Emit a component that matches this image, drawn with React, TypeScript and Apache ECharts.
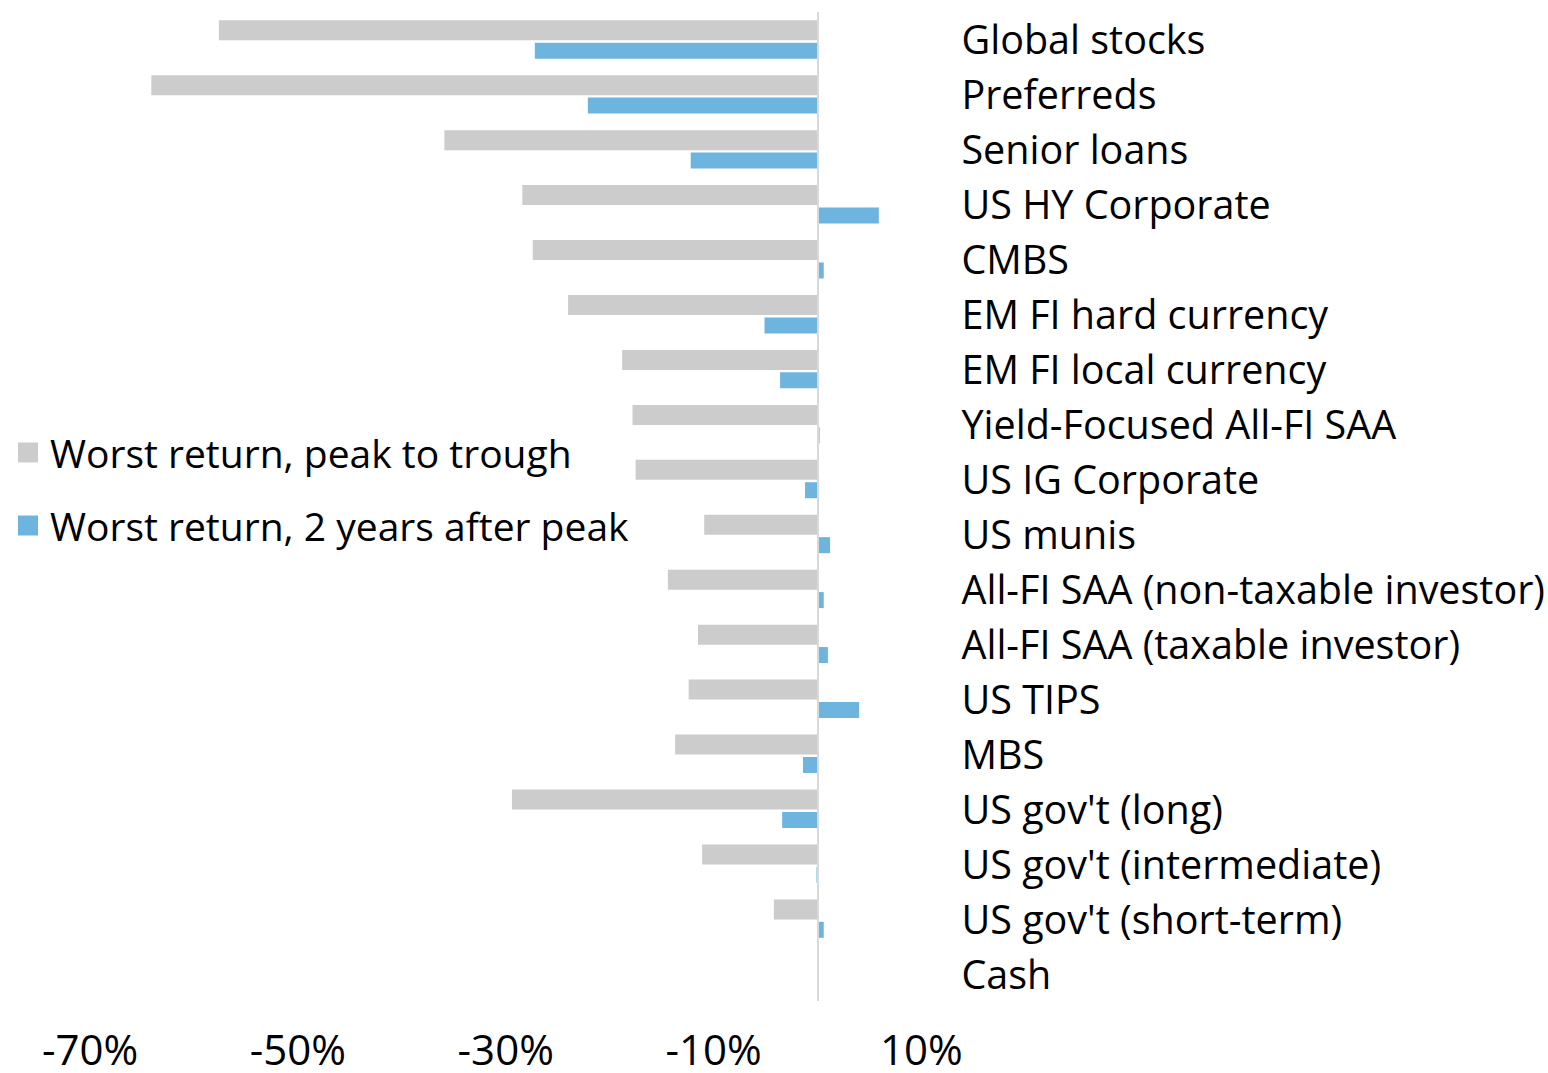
import React, { useEffect, useRef } from "react";
import * as echarts from "echarts";

const categories = [
  "Global stocks",
  "Preferreds",
  "Senior loans",
  "US HY Corporate",
  "CMBS",
  "EM FI hard currency",
  "EM FI local currency",
  "Yield-Focused All-FI SAA",
  "US IG Corporate",
  "US munis",
  "All-FI SAA (non-taxable investor)",
  "All-FI SAA (taxable investor)",
  "US TIPS",
  "MBS",
  "US gov't (long)",
  "US gov't (intermediate)",
  "US gov't (short-term)",
  "Cash",
];

const peakToTrough = [
  -57.6, -64.1, -35.9, -28.4, -27.4, -24.0, -18.8, -17.8, -17.5, -10.9, -14.4,
  -11.5, -12.4, -13.7, -29.4, -11.1, -4.2, 0,
];

const twoYearsAfter = [
  -27.2, -22.1, -12.2, 5.9, 0.6, -5.1, -3.6, 0.2, -1.2, 1.2, 0.6, 1.0, 4.0,
  -1.4, -3.4, -0.1, 0.6, 0.1,
];

const seriesNames = [
  "Worst return, peak to trough",
  "Worst return, 2 years after peak",
];

const xMin = -70;
const xMax = 10;
const xStep = 10;

const FONT = "Open Sans";

export default function App() {
  const ref = useRef<HTMLDivElement>(null);

  useEffect(() => {
    if (!ref.current) return;
    const chart = echarts.init(ref.current, null, { renderer: "svg" });
    chart.setOption({
      animation: false,
      backgroundColor: "#ffffff",
      textStyle: { fontFamily: FONT },
      grid: { left: 90, right: 626, top: 12, bottom: 72, containLabel: false },
      legend: {
        orient: "vertical",
        left: 18,
        top: 433,
        padding: 0,
        itemWidth: 20,
        itemHeight: 20,
        itemGap: 34,
        icon: "rect",
        textStyle: {
          fontFamily: FONT,
          fontSize: 39,
          color: "#000000",
          padding: [0, 0, 0, 7],
        },
        data: seriesNames,
      },
      xAxis: {
        type: "value",
        min: xMin,
        max: xMax,
        interval: xStep,
        axisLine: { show: false },
        axisTick: { show: false },
        splitLine: { show: false },
        axisLabel: {
          fontFamily: FONT,
          fontSize: 42,
          color: "#000000",
          margin: 26,
          formatter: (v: number) =>
            Math.round(v - xMin) % 20 === 0 ? `${Math.round(v)}%` : "",
        },
      },
      yAxis: {
        type: "category",
        data: categories,
        inverse: true,
        position: "right",
        axisLine: { show: false },
        axisTick: { show: false },
        splitLine: { show: false },
        axisLabel: {
          fontFamily: FONT,
          fontSize: 39.5,
          color: "#000000",
          margin: 40,
          align: "left",
          padding: [0, 0, 6, 0],
        },
      },
      series: [
        {
          name: seriesNames[0],
          type: "bar",
          data: peakToTrough,
          barWidth: 20,
          barGap: "12%",
          itemStyle: { color: "#cccccc" },
          markLine: {
            silent: true,
            symbol: "none",
            label: { show: false },
            lineStyle: { color: "#d9d9d9", width: 2, type: "solid" },
            data: [{ xAxis: 0 }],
            z: 10,
          },
        },
        {
          name: seriesNames[1],
          type: "bar",
          data: twoYearsAfter,
          barWidth: 16,
          itemStyle: { color: "#6db4de" },
        },
      ],
    });
    return () => chart.dispose();
  }, []);

  return (
    <div
      ref={ref}
      style={{ position: "absolute", left: 0, top: 0, width: 1548, height: 1073 }}
    />
  );
}
